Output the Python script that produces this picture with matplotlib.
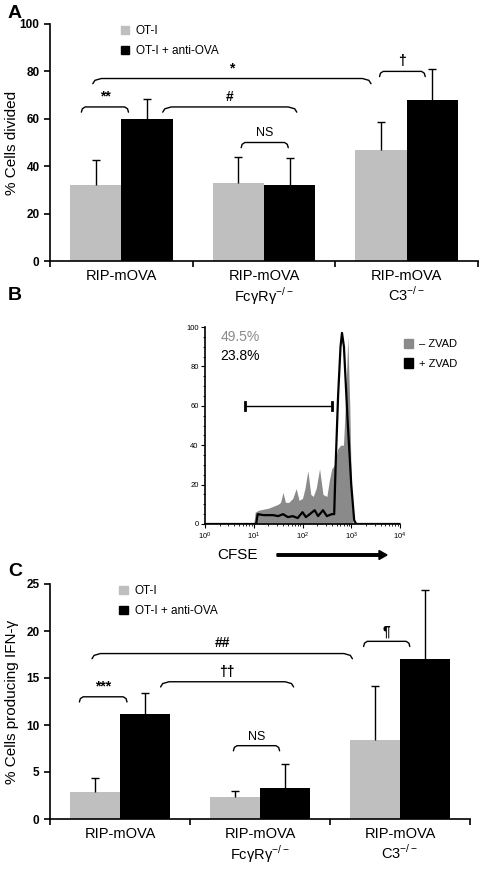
import numpy as np
import matplotlib
matplotlib.use("Agg")
import matplotlib.pyplot as plt
from matplotlib.patches import Patch

plt.rcParams["font.family"] = ["Liberation Sans", "DejaVu Sans"]

# ---- data ----
sup = "$^{\\mathregular{-/-}}$"
groups = ["RIP-mOVA", "RIP-mOVA\nFc\u03b3R\u03b3" + sup, "RIP-mOVA\nC3" + sup]

# panel A: % cells divided
divided_oti = [32, 33, 47]
divided_oti_err = [10.5, 11, 11.5]
divided_anti = [60, 32, 68]
divided_anti_err = [8.5, 11.5, 13]

# panel C: % cells producing IFN-g
ifn_oti = [2.9, 2.35, 8.4]
ifn_oti_err = [1.5, 0.65, 5.7]
ifn_anti = [11.2, 3.3, 17.0]
ifn_anti_err = [2.2, 2.5, 7.4]

# significance brackets: (x_start, x_end, y, label)
sig_a = [(-0.28, 0.05, 65, "**"), (0.29, 1.23, 65, "#"),
         (0.84, 1.17, 50, "NS"), (-0.2, 1.75, 77, "*"),
         (1.81, 2.13, 80, "\u2020")]
sig_c = [(-0.29, 0.05, 13.0, "***"), (0.29, 1.24, 14.6, "\u2020\u2020"),
         (0.81, 1.14, 7.8, "NS"), (-0.2, 1.66, 17.6, "##"),
         (1.74, 2.07, 18.9, "\u00b6")]

# panel B: CFSE histograms (log10 of CFSE, % of max)
minus_logx = [0.0, 1.0, 1.03, 1.1, 1.2, 1.3, 1.4, 1.5, 1.55, 1.6, 1.65, 1.72,
              1.8, 1.87, 1.93, 2.0, 2.05, 2.11, 2.17, 2.22, 2.28, 2.35, 2.42,
              2.5, 2.55, 2.6, 2.66, 2.72, 2.78, 2.84, 2.88, 2.93, 2.97, 3.0,
              3.04, 4.0]
minus_y = [0, 0, 6, 7, 7.5, 8, 9, 10, 11, 16, 11, 11,
           13, 18, 12, 13, 18, 27, 15, 14, 18, 28, 15,
           14, 22, 28, 30, 38, 40, 40, 60, 95, 60, 20,
           0, 0]
plus_logx = [0.0, 1.05, 1.08, 1.2, 1.4, 1.5, 1.6, 1.7, 1.8, 1.9, 2.0, 2.07,
             2.15, 2.25, 2.32, 2.42, 2.5, 2.6, 2.65, 2.68, 2.73, 2.78, 2.81,
             2.85, 2.92, 3.0, 3.06, 3.1, 4.0]
plus_y = [0, 0, 5, 4.5, 4.5, 4, 5, 3.5, 4, 3, 6, 3.5,
          5, 7, 4, 7, 4, 5, 5, 30, 65, 90, 97,
          90, 55, 20, 2, 0, 0]
gate = (6.6, 400, 60)

light = "#bfbfbf"
W, H = 482, 888
fig = plt.figure(figsize=(W / 100, H / 100), dpi=100)


def px(l, t, r, b):
    return [l / W, 1 - b / H, (r - l) / W, (b - t) / H]


def bracket(ax, x0, x1, y, label, d, fs=10):
    e = min((x1 - x0) * 0.08, 0.06)
    ax.plot([x0, x0 + e * 0.25, x0 + e, x1 - e, x1 - e * 0.25, x1],
            [y - d, y - d * 0.35, y, y, y - d * 0.35, y - d],
            color="black", lw=1.0, solid_capstyle="round")
    ax.text((x0 + x1) / 2, y + d * 0.6, label, ha="center", va="bottom",
            fontsize=fs if label != "NS" else 9,
            fontweight="bold" if label != "NS" else "normal")


def upper_err(ax, x, v, e):
    _, caps, _ = ax.errorbar(x, v, yerr=[np.zeros(len(v)), e], fmt="none",
                             ecolor="black", elinewidth=1, capsize=3)
    caps[0].set_visible(False)  # no cap at the bar top


def bar_panel(ax, v1, e1, v2, e2, ymax, step, ylabel, sig, d):
    x = np.arange(len(groups))
    w = 0.36
    ax.bar(x - w / 2, v1, w, color=light)
    ax.bar(x + w / 2, v2, w, color="black")
    upper_err(ax, x - w / 2, v1, e1)
    upper_err(ax, x + w / 2, v2, e2)
    ax.set_xlim(-0.5, 2.5)
    ax.set_ylim(0, ymax)
    ax.set_yticks(np.arange(0, ymax + 1, step))
    ax.set_xticks(x)
    ax.set_xticklabels(groups, fontsize=10.5, linespacing=1.1)
    ax.set_xticks([-0.5, 0.5, 1.5, 2.5], minor=True)
    ax.tick_params(axis="x", which="major", length=0, pad=6)
    ax.tick_params(axis="x", which="minor", length=4, width=1.2, direction="out")
    ax.tick_params(axis="y", length=4, width=1.2, direction="out")
    for lab in ax.get_yticklabels():
        lab.set_fontweight("bold")
        lab.set_fontsize(8.5)
    for s in ["top", "right"]:
        ax.spines[s].set_visible(False)
    for s in ["left", "bottom"]:
        ax.spines[s].set_linewidth(1.2)
    ax.set_ylabel(ylabel, fontsize=11)
    ax.yaxis.set_label_coords(-31 / (ax.get_position().width * W), 0.5)
    for x0, x1, y, lab in sig:
        bracket(ax, x0, x1, y, lab, d)
    ax.legend(handles=[Patch(color=light, label="OT-I"),
                       Patch(color="black", label="OT-I + anti-OVA")],
              loc="upper left", bbox_to_anchor=(0.14, 1.04), frameon=False,
              fontsize=8.5, handlelength=0.7, handleheight=0.7,
              handletextpad=0.6, labelspacing=0.7)


# panel A
axA = fig.add_axes(px(50, 24, 478, 261))
bar_panel(axA, divided_oti, divided_oti_err, divided_anti, divided_anti_err,
          100, 20, "% Cells divided", sig_a, 2.2)

# panel C
axC = fig.add_axes(px(50, 584, 470, 819))
bar_panel(axC, ifn_oti, ifn_oti_err, ifn_anti, ifn_anti_err,
          25, 5, "% Cells producing IFN-\u03b3", sig_c, 0.55)

# panel B
axB = fig.add_axes(px(205, 327, 400, 524))
axB.fill_between(10 ** np.array(minus_logx), minus_y, color="#8a8a8a", lw=0)
axB.plot(10 ** np.array(plus_logx), plus_y, color="black", lw=1.6)
axB.set_xscale("log")
axB.set_xlim(1, 1e4)
axB.set_ylim(0, 100)
axB.set_yticks([0, 20, 40, 60, 80, 100])
axB.set_yticks(np.arange(0, 101, 5), minor=True)
axB.tick_params(labelsize=5.5, length=3, width=0.8, direction="out", pad=1.5)
axB.tick_params(which="minor", length=1.5, width=0.6)
for s in ["top", "right"]:
    axB.spines[s].set_visible(False)
for s in ["left", "bottom"]:
    axB.spines[s].set_linewidth(1.2)
gl, gr, gy = gate
axB.plot([gl, gr], [gy, gy], color="black", lw=1.0)
axB.plot([gl, gl], [gy - 2, gy + 2], color="black", lw=2)
axB.plot([gr, gr], [gy - 2, gy + 2], color="black", lw=2)
axB.text(0.08, 0.95, "49.5%", transform=axB.transAxes, color="#8a8a8a",
         fontsize=10, va="center")
axB.text(0.08, 0.855, "23.8%", transform=axB.transAxes, color="black",
         fontsize=10, va="center")
axB.legend(handles=[Patch(color="#8a8a8a", label="\u2013 ZVAD"),
                    Patch(color="black", label="+ ZVAD")],
           loc="upper left", bbox_to_anchor=(0.97, 0.99), frameon=False,
           fontsize=8, handlelength=0.8, handleheight=0.9,
           handletextpad=0.5, labelspacing=0.8)

fig.text(238 / W, 1 - 555 / H, "CFSE", fontsize=11, ha="center", va="center")
fig.patches.append(matplotlib.patches.FancyArrow(
    277 / W, 1 - 555 / H, 110 / W, 0, width=2.5 / H, head_width=9 / H,
    head_length=8 / W, length_includes_head=True, color="black",
    transform=fig.transFigure))

# panel letters
fig.text(8 / W, 1 - 14 / H, "A", fontsize=14, fontweight="bold", va="center")
fig.text(8 / W, 1 - 296 / H, "B", fontsize=14, fontweight="bold", va="center")
fig.text(8 / W, 1 - 572 / H, "C", fontsize=14, fontweight="bold", va="center")

fig.savefig("out.png", dpi=100)
